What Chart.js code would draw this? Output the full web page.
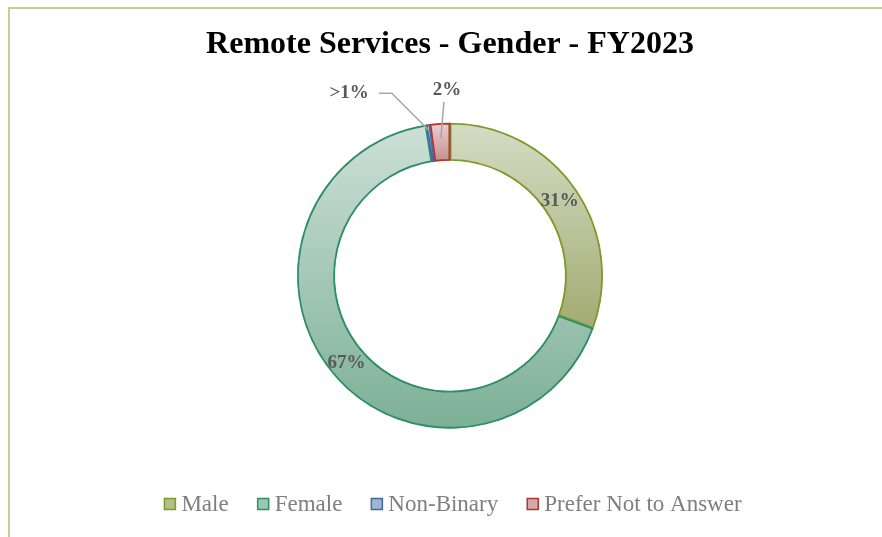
<!DOCTYPE html>
<html><head><meta charset="utf-8">
<script src="https://cdn.jsdelivr.net/npm/chart.js@4/dist/chart.umd.min.js"></script>
<style>
html,body{margin:0;padding:0;background:#fff;}
#wrap{position:relative;width:882px;height:537px;overflow:hidden;}
#frame{position:absolute;left:8px;top:7px;width:900px;height:600px;border-left:2px solid #c4cf92;border-top:2px solid #c4cf92;}
canvas{position:absolute;left:0;top:0;}
</style></head>
<body><div id="wrap"><div id="frame"></div><canvas id="c" width="882" height="537"></canvas></div>
<script>
const titleText = 'Remote Services - Gender - FY2023';
const categories = ['Male', 'Female', 'Non-Binary', 'Prefer Not to Answer'];
const values = [30.6, 66.9, 0.4, 2.1];
const pctLabels = ['31%', '67%', '>1%', '2%'];

const borderColors = ['#7f9a2a', '#2e8e68', '#3f6aa8', '#b03535'];
const lightColors = ['#d6dcc5', '#cde0d8', '#c9d4e6', '#e8d0d0'];
const darkColors = ['#a2ab72', '#7cb096', '#7b93c0', '#c58e8e'];
const legendFill = ['#b3bd88', '#9cc7b3', '#a3b4d2', '#d6a9a9'];

const R_OUT = 153, R_IN = 115;
const SERIF = '"Liberation Serif", "DejaVu Serif", serif';

function segGradient(ctx) {
  const chart = ctx.chart, area = chart.chartArea;
  const i = ctx.dataIndex;
  if (!area) return lightColors[i];
  const cy = (area.top + area.bottom) / 2;
  const total = values.reduce((a, b) => a + b, 0);
  let s = 0; for (let k = 0; k < i; k++) s += values[k];
  const a0 = s / total * 2 * Math.PI, a1 = (s + values[i]) / total * 2 * Math.PI;
  const ys = [];
  for (const r of [R_OUT, R_IN]) for (const a of [a0, a1]) ys.push(cy - r * Math.cos(a));
  if (a0 <= 1e-6 || a1 >= 2 * Math.PI - 1e-6) ys.push(cy - R_OUT);
  if (a0 <= Math.PI && a1 >= Math.PI) ys.push(cy + R_OUT);
  const y0 = Math.min(...ys), y1 = Math.max(...ys);
  const g = chart.ctx.createLinearGradient(0, y0, 0, y1);
  g.addColorStop(0, lightColors[i]);
  g.addColorStop(1, darkColors[i]);
  return g;
}

const labelPlugin = {
  id: 'pctLabels',
  afterDatasetsDraw(chart) {
    const ctx = chart.ctx;
    const meta = chart.getDatasetMeta(0);
    ctx.save();
    ctx.font = 'bold 19px ' + SERIF;
    ctx.fillStyle = '#595959';
    ctx.textBaseline = 'middle';
    meta.data.forEach((arc, i) => {
      const p = arc.getProps(['x', 'y', 'startAngle', 'endAngle', 'innerRadius', 'outerRadius'], true);
      const mid = (p.startAngle + p.endAngle) / 2;
      if (i < 2) {
        const r = (p.innerRadius + p.outerRadius) / 2;
        ctx.textAlign = 'center';
        ctx.fillText(pctLabels[i], p.x + Math.cos(mid) * r, p.y + Math.sin(mid) * r + 2);
      } else {
        ctx.strokeStyle = '#a6a6a6';
        ctx.lineWidth = 1.5;
        if (i === 2) {
          const r = p.outerRadius - 6;
          const ex = p.x + Math.cos(mid) * r, ey = p.y + Math.sin(mid) * r;
          ctx.beginPath();
          ctx.moveTo(ex, ey);
          ctx.lineTo(ex - 37, ey - 37);
          ctx.lineTo(ex - 50, ey - 37);
          ctx.stroke();
          ctx.textAlign = 'right';
          ctx.fillText(pctLabels[i], ex - 60, ey - 37);
        } else {
          const r = p.outerRadius - 15;
          const ex = p.x + Math.cos(mid) * r, ey = p.y + Math.sin(mid) * r;
          ctx.beginPath();
          ctx.moveTo(ex, ey);
          ctx.lineTo(ex + 3, ey - 36);
          ctx.stroke();
          ctx.textAlign = 'center';
          ctx.fillText(pctLabels[i], ex + 6, ey - 48);
        }
      }
    });
    ctx.restore();
  }
};

const legendPlugin = {
  id: 'customLegend',
  afterDraw(chart) {
    const ctx = chart.ctx;
    ctx.save();
    ctx.font = '23px ' + SERIF;
    ctx.textBaseline = 'middle';
    ctx.textAlign = 'left';
    const box = 11, gapBox = 6, gapItem = 29;
    const widths = categories.map(c => ctx.measureText(c).width);
    const total = widths.reduce((a, w) => a + box + gapBox + w, 0) + gapItem * (categories.length - 1);
    const cxLegend = (chart.chartArea.left + chart.chartArea.right) / 2 + 3;
    let x = cxLegend - total / 2;
    const y = 504;
    categories.forEach((c, i) => {
      ctx.fillStyle = legendFill[i];
      ctx.strokeStyle = borderColors[i];
      ctx.lineWidth = 1.5;
      ctx.fillRect(x, y - box / 2, box, box);
      ctx.strokeRect(x, y - box / 2, box, box);
      ctx.fillStyle = '#7f7f7f';
      ctx.fillText(c, x + box + gapBox, y + 1);
      x += box + gapBox + widths[i] + gapItem;
    });
    ctx.restore();
  }
};

new Chart(document.getElementById('c'), {
  type: 'doughnut',
  data: {
    labels: categories,
    datasets: [{
      data: values,
      backgroundColor: segGradient,
      borderColor: borderColors,
      borderWidth: 1.5,
      borderAlign: 'inner'
    }]
  },
  options: {
    responsive: false,
    animation: false,
    radius: R_OUT,
    cutout: (R_IN / R_OUT * 100).toFixed(2) + '%',
    layout: { padding: { left: 18, right: 0, top: 20, bottom: 60 } },
    plugins: {
      tooltip: { enabled: false },
      legend: { display: false },
      title: {
        display: true,
        text: titleText,
        color: '#000',
        font: { family: SERIF, size: 32, weight: 'bold' },
        padding: { top: 6, bottom: 10 }
      }
    }
  },
  plugins: [labelPlugin, legendPlugin]
});
</script>
</body></html>
